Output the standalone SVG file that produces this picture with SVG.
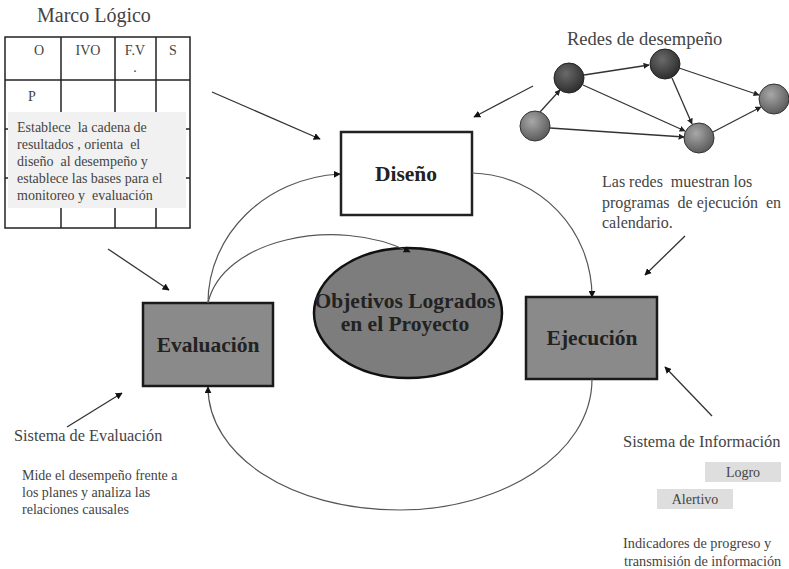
<svg xmlns="http://www.w3.org/2000/svg" width="789" height="569" viewBox="0 0 789 569">
<style>
text{font-family:"Liberation Serif","DejaVu Serif",serif;fill:#444;white-space:pre}
.t14{font-size:14px}
.bold{font-weight:bold;fill:#222}
.grid{stroke:#222;stroke-width:1.5;fill:none}
.conn{fill:none;stroke:#555;stroke-width:1.2}
.arr{fill:none;stroke:#333;stroke-width:1.3}
.net{stroke:#333;stroke-width:1.3;fill:none}
</style>
<defs>
<marker id="ah" viewBox="0 0 10 10" refX="9" refY="5" markerWidth="7" markerHeight="7" orient="auto" markerUnits="userSpaceOnUse">
<path d="M0,0 L10,5 L0,10 z" fill="#111"/>
</marker>
<marker id="ahs" viewBox="0 0 10 10" refX="9" refY="5" markerWidth="6" markerHeight="6" orient="auto" markerUnits="userSpaceOnUse">
<path d="M0,0 L10,5 L0,10 z" fill="#222"/>
</marker>
<radialGradient id="gdark" cx="40%" cy="35%" r="65%">
<stop offset="0" stop-color="#6a6a6a"/><stop offset="1" stop-color="#2e2e2e"/>
</radialGradient>
<radialGradient id="ggray" cx="40%" cy="35%" r="65%">
<stop offset="0" stop-color="#a8a8a8"/><stop offset="1" stop-color="#5c5c5c"/>
</radialGradient>
</defs>

<g id="marco-logico">
<text x="37" y="22" style="font-size:20px">Marco Lógico</text>
<rect class="grid" x="5" y="37" width="185" height="191"/>
<line class="grid" x1="5" y1="80" x2="190" y2="80"/>
<line class="grid" x1="5" y1="129" x2="190" y2="129"/>
<line class="grid" x1="5" y1="178" x2="190" y2="178"/>
<line class="grid" x1="61" y1="37" x2="61" y2="228"/>
<line class="grid" x1="115" y1="37" x2="115" y2="228"/>
<line class="grid" x1="156" y1="37" x2="156" y2="228"/>
<text class="t14" x="39" y="55" text-anchor="middle">O</text>
<text class="t14" x="88" y="55" text-anchor="middle">IVO</text>
<text class="t14" x="135" y="55" text-anchor="middle">F.V</text>
<text class="t14" x="135" y="72" text-anchor="middle">.</text>
<text class="t14" x="173" y="55" text-anchor="middle">S</text>
<text class="t14" x="32" y="101" text-anchor="middle">P</text>
<rect x="8" y="112" width="178" height="96" fill="#f1f1f1"/>
<text x="17" y="132" style="font-size:14px">Establece  la cadena de</text>
<text x="17" y="149" style="font-size:14px">resultados , orienta  el</text>
<text x="17" y="166" style="font-size:14px">diseño  al desempeño y</text>
<text x="17" y="183" style="font-size:14px">establece las bases para el</text>
<text x="17" y="200" style="font-size:14px">monitoreo y  evaluación</text>
</g>

<g id="redes">
<text x="567" y="45" style="font-size:18.5px">Redes de desempeño</text>
<g class="net">
<line x1="540" y1="112" x2="560" y2="90" marker-end="url(#ahs)"/>
<line x1="584" y1="75" x2="649" y2="65" marker-end="url(#ahs)"/>
<line x1="583" y1="85" x2="685" y2="131" marker-end="url(#ahs)"/>
<line x1="550" y1="128" x2="684" y2="137" marker-end="url(#ahs)"/>
<line x1="672" y1="78" x2="692" y2="124" marker-end="url(#ahs)"/>
<line x1="679" y1="68" x2="759" y2="95" marker-end="url(#ahs)"/>
<line x1="713" y1="132" x2="761" y2="107" marker-end="url(#ahs)"/>
</g>
<circle cx="569" cy="78" r="15" fill="url(#gdark)" stroke="#222" stroke-width="1"/>
<circle cx="665" cy="64" r="15" fill="url(#gdark)" stroke="#222" stroke-width="1"/>
<circle cx="774" cy="99" r="15" fill="url(#ggray)" stroke="#333" stroke-width="1"/>
<circle cx="535" cy="126" r="15" fill="url(#ggray)" stroke="#333" stroke-width="1"/>
<circle cx="699" cy="138" r="15" fill="url(#ggray)" stroke="#333" stroke-width="1"/>
<text x="602" y="187" style="font-size:16px">Las redes  muestran los</text>
<text x="602" y="208" style="font-size:16px">programas  de ejecución  en</text>
<text x="602" y="228" style="font-size:16px">calendario.</text>
</g>

<g id="diseno">
<rect x="341" y="132" width="131" height="83" fill="#fff" stroke="#222" stroke-width="2.5"/>
<text class="bold" x="406" y="181" text-anchor="middle" style="font-size:21.5px">Diseño</text>
</g>

<g id="evaluacion">
<rect x="143" y="303" width="130" height="83" fill="#8a8a8a" stroke="#1a1a1a" stroke-width="2.5"/>
<text class="bold" x="208" y="352" text-anchor="middle" style="font-size:21.5px">Evaluación</text>
</g>

<g id="ejecucion">
<rect x="526" y="297" width="131" height="82" fill="#8a8a8a" stroke="#1a1a1a" stroke-width="2.5"/>
<text class="bold" x="592" y="345" text-anchor="middle" style="font-size:21.5px">Ejecución</text>
</g>

<g id="objetivos">
<ellipse cx="408" cy="313" rx="94" ry="65" fill="#7d7d7d" stroke="#111" stroke-width="2.5"/>
<text class="bold" x="405" y="308" text-anchor="middle" style="font-size:21.5px">Objetivos Logrados</text>
<text class="bold" x="405" y="331" text-anchor="middle" style="font-size:21.5px">en el Proyecto</text>
</g>

<g id="sistema-evaluacion">
<text x="14" y="441" style="font-size:16.3px">Sistema de Evaluación</text>
<text x="22" y="480" style="font-size:14px">Mide el desempeño frente a</text>
<text x="22" y="497" style="font-size:14px">los planes y analiza las</text>
<text x="22" y="514" style="font-size:14px">relaciones causales</text>
</g>

<g id="sistema-informacion">
<text x="623" y="447" style="font-size:16.5px">Sistema de Información</text>
<rect x="705" y="462" width="76" height="20" fill="#dedede"/>
<text x="743" y="477" text-anchor="middle" style="font-size:14px">Logro</text>
<rect x="657" y="489" width="76" height="20" fill="#dedede"/>
<text x="695" y="504" text-anchor="middle" style="font-size:14px">Alertivo</text>
<text x="623" y="548" style="font-size:14.3px">Indicadores de progreso y</text>
<text x="624" y="566" style="font-size:14.3px">transmisión de información</text>
</g>

<g id="connectors">
<path class="conn" d="M208,303 C208,235 265,178 340,174" marker-end="url(#ah)"/>
<path class="conn" d="M208,303 C222,240 335,215 410,252" marker-end="url(#ah)"/>
<path class="conn" d="M472,173 C540,175 592,230 592,297" marker-end="url(#ah)"/>
<path class="conn" d="M592,379 C592,455 500,510 400,510 C290,510 208,455 208,387" marker-end="url(#ah)"/>
<line class="arr" x1="212" y1="92" x2="320" y2="139" marker-end="url(#ah)"/>
<line class="arr" x1="108" y1="249" x2="169" y2="290" marker-end="url(#ah)"/>
<line class="arr" x1="67" y1="427" x2="122" y2="393" marker-end="url(#ah)"/>
<line class="arr" x1="712" y1="416" x2="665" y2="367" marker-end="url(#ah)"/>
<line class="arr" x1="685" y1="236" x2="645" y2="275" marker-end="url(#ah)"/>
<line class="arr" x1="533" y1="86" x2="474" y2="117" marker-end="url(#ah)"/>
</g>
</svg>
